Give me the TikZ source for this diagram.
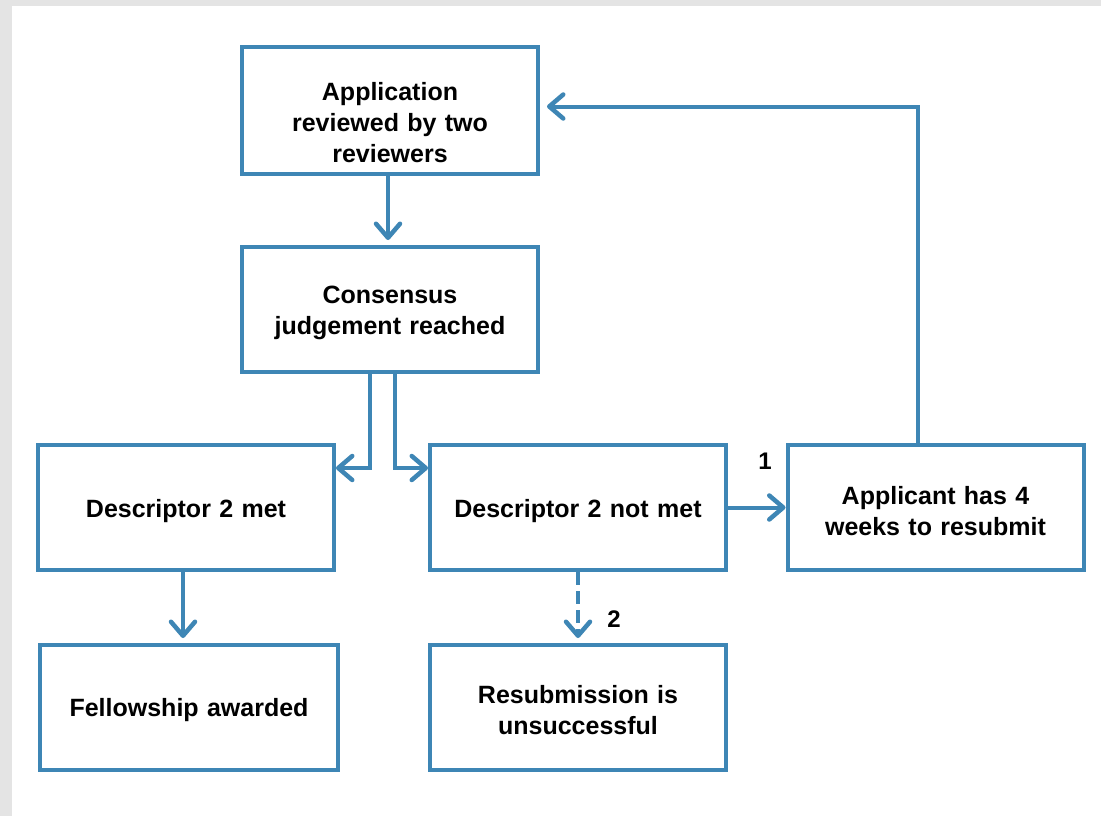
\documentclass[tikz,border=0pt]{standalone}
\usepackage{fontspec}
\setmainfont{Liberation Sans}
\usetikzlibrary{arrows.meta}
\definecolor{flowblue}{RGB}{62,134,181}
\definecolor{pagegrey}{RGB}{228,228,228}
\tikzset{
  box/.style={draw=flowblue, line width=4pt, fill=white, minimum width=296pt,
    minimum height=125pt, inner sep=0pt},
  boxtext/.style={align=center, text width=280pt,
    font=\fontsize{25}{31}\selectfont\bfseries, inner sep=0pt},
  arr/.style={draw=flowblue, line width=4pt,
    -{Straight Barb[length=14pt,width=24pt,round,line width=4.5pt]}},
  lbl/.style={font=\fontsize{24}{26}\selectfont\bfseries, inner sep=0pt}
}
\begin{document}
\begin{tikzpicture}[x=1pt,y=-1pt]
\fill[pagegrey] (0,0) rectangle (1101,816);
\fill[white] (12,6) rectangle (1101,816);
\useasboundingbox (0,0) rectangle (1101,816);

\node[box, minimum height=127pt] (A) at (390,110.5) {};
\node[box] (B) at (390,309.5) {};
\node[box] (C) at (186,507.5) {};
\node[box] (D) at (578,507.5) {};
\node[box] (E) at (935.5,507.5) {};
\node[box, minimum width=298pt] (F) at (189,707.5) {};
\node[box] (G) at (578,707.5) {};

\node[boxtext] (At) at ([yshift=-12pt]A.center) {Application\\reviewed by two\\reviewers};
\node[boxtext] (Bt) at ([yshift=-3pt]B.center) {Consensus\\judgement reached};
\node[boxtext] (Ct) at ([yshift=-4pt]C.center) {Descriptor 2 met};
\node[boxtext] (Dt) at ([yshift=-4pt]D.center) {Descriptor 2 not met};
\node[boxtext] (Et) at ([yshift=-4pt]E.center) {Applicant has 4\\weeks to resubmit};
\node[boxtext] (Ft) at ([yshift=-3pt]F.center) {Fellowship awarded};
\node[boxtext] (Gt) at ([yshift=-3pt]G.center) {Resubmission is\\unsuccessful};

\draw[arr, shorten >=5pt] ([xshift=-2pt]A.south) -- ([xshift=-2pt]B.north);
\draw[arr] ([xshift=-20pt]B.south) |- ([yshift=-25pt]C.north east);
\draw[arr] ([xshift=5pt]B.south) |- ([yshift=-25pt]D.north west);
\draw[arr] (D.east) -- (E.west);
\draw[arr, shorten >=5pt] (C.south -| 183,0) -- (F.north -| 183,0);
\draw[arr, shorten >=5pt, dash pattern=on 13pt off 6pt] (G.north |- D.south) -- (G.north);
\draw[arr, shorten >=7pt] ([xshift=-17.5pt]E.north) |- ([yshift=4pt]A.east);

\node[lbl] (l1) at (765,461) {1};
\node[lbl] (l2) at (614,619) {2};
\end{tikzpicture}
\end{document}
